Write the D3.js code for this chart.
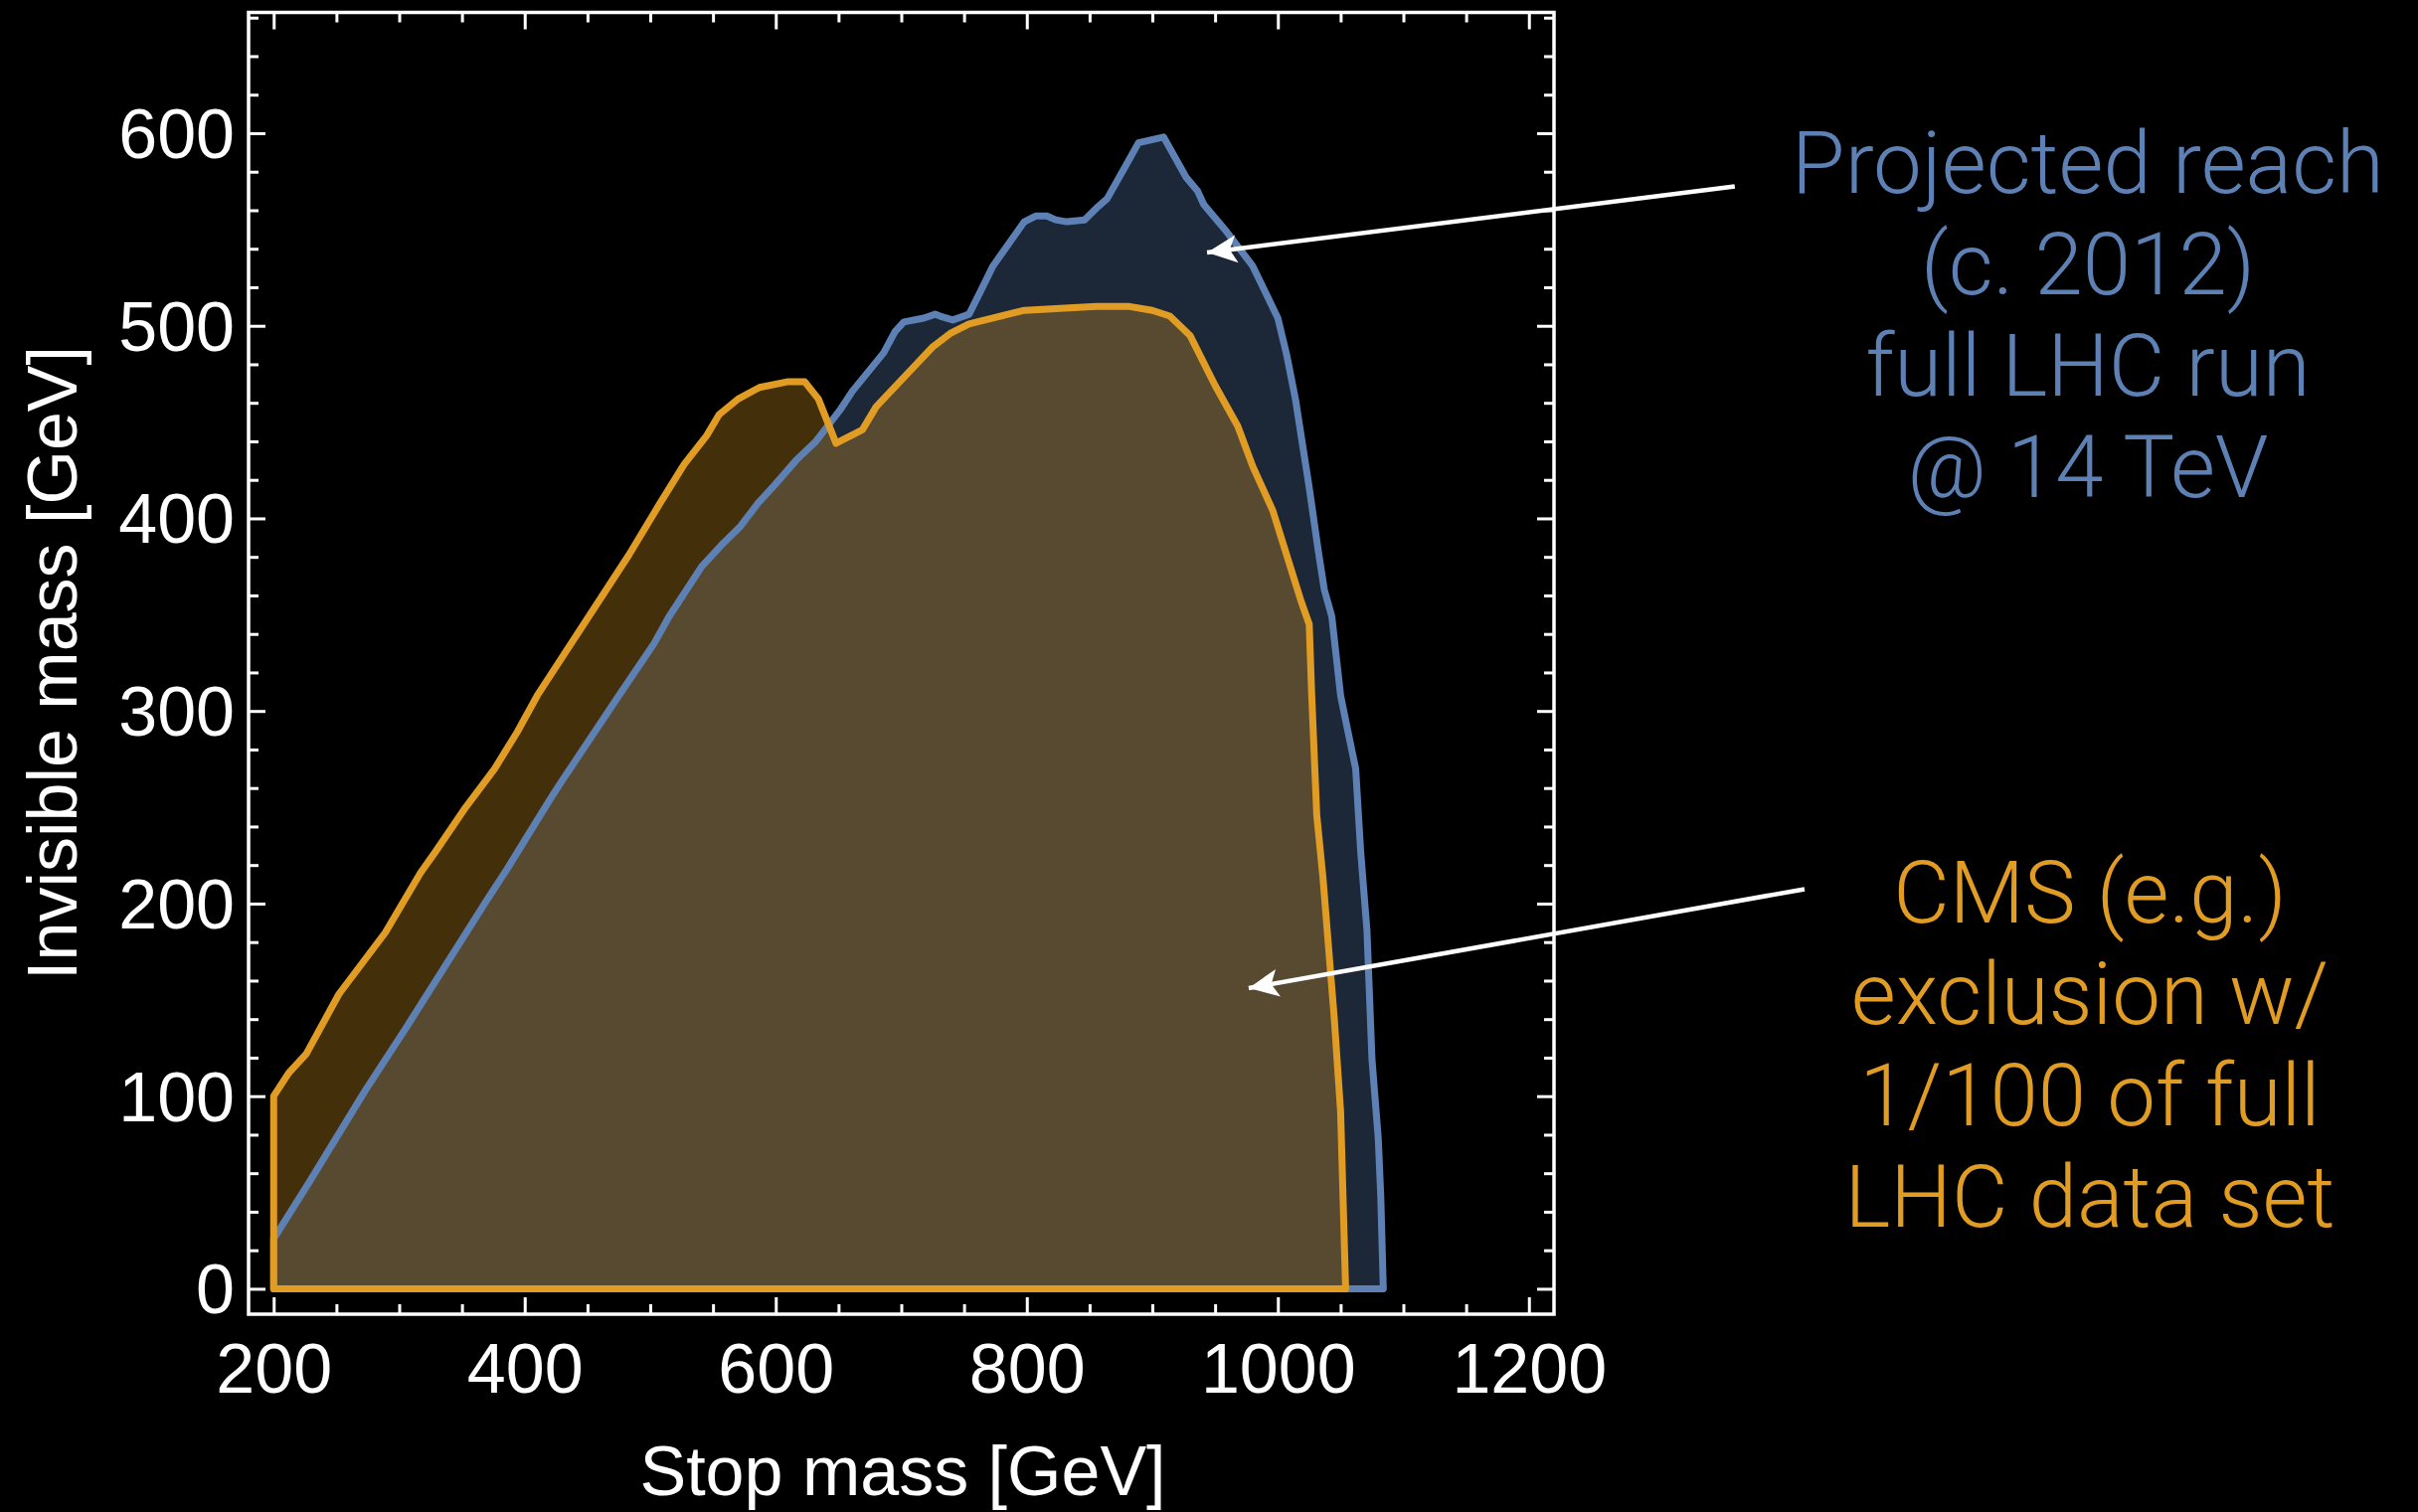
<!DOCTYPE html>
<html>
<head>
<meta charset="utf-8">
<script src="https://cdn.jsdelivr.net/npm/d3@7"></script>
<style>
  html, body { margin: 0; padding: 0; background: #000; }
  svg { display: block; }
</style>
</head>
<body>
<main></main>
<script>
// Page and frame geometry
const width = 2432;
const height = 1521;
const frame = { left: 250, right: 1563, top: 12.5, bottom: 1322 };

// Tick values
const xMajorTicks = [200, 400, 600, 800, 1000, 1200];
const yMajorTicks = [0, 100, 200, 300, 400, 500, 600];

// Projected reach (blue) boundary: stop mass, invisible mass
const reachStop = [200, 200, 228, 273, 305, 370, 386, 422, 430, 475, 503, 515, 541, 558, 572, 586, 600, 616, 632, 652, 661, 686, 695, 702, 718, 727, 731, 741, 754, 764, 773, 798, 807, 816, 823, 832, 846, 857, 864, 877, 889, 909, 927, 936, 941, 959, 980, 1000, 1007, 1014, 1025, 1032, 1037, 1043, 1050, 1055, 1062, 1066, 1071, 1075, 1080, 1082, 1084];
const reachInv = [0, 26, 55, 103, 135, 202, 218, 256, 264, 308, 335, 349, 375, 387, 396, 408, 418, 430, 440, 457, 466, 486, 497, 502, 504, 506, 505, 503, 506, 519, 531, 554, 557, 557, 555, 554, 555, 562, 566, 581, 595, 598, 577, 570, 563, 549, 531, 504, 485, 462, 416, 384, 363, 349, 308, 292, 270, 227, 186, 119, 78, 48, 0];

// CMS exclusion (orange) boundary
const cmsStop = [200, 200, 212, 226, 252, 289, 317, 329, 353, 376, 394, 410, 430, 463, 483, 507, 527, 545, 555, 570, 587, 610, 623, 634, 648, 669, 680, 709, 725, 739, 754, 798, 855, 882, 900, 914, 930, 950, 968, 980, 996, 1018, 1025, 1027, 1031, 1036, 1045, 1050, 1054];
const cmsInv = [0, 100, 112, 122, 153, 185, 216, 227, 250, 270, 289, 308, 328, 361, 381, 407, 428, 443, 454, 462, 468, 471, 471, 462, 439, 446, 458, 478, 489, 496, 501, 508, 510, 510, 508, 505, 495, 469, 448, 427, 404, 358, 345, 308, 246, 213, 140, 92, 0];

// Annotation texts
const reachLabel = ["Projected reach", "(c. 2012)", "full LHC run", "@ 14 TeV"];
const cmsLabel = ["CMS (e.g.)", "exclusion w/", "1/100 of full", "LHC data set"];

// Colours (Mathematica defaults)
const blue = "#5e81b5";
const orange = "#e19c24";

const svg = d3
  .select("main")
  .append("svg")
  .attr("width", width)
  .attr("height", height)
  .style("background", "#000");

// Scales (Mathematica pads the plot range a little)
const x = d3.scaleLinear().domain([180, 1220]).range([frame.left, frame.right]);
const y = d3.scaleLinear().domain([-13.2, 662.7]).range([frame.bottom, frame.top]);

const toPoints = (xs, ys) => xs.map((v, i) => [v, ys[i]]);
const reach = toPoints(reachStop, reachInv);
const cms = toPoints(cmsStop, cmsInv);

const line = d3
  .line()
  .x((d) => x(d[0]))
  .y((d) => y(d[1]))
  .curve(d3.curveLinearClosed);

// Fills first, then the boundary lines on top
svg.append("path").attr("d", line(reach)).attr("fill", blue).attr("fill-opacity", 0.3);
svg.append("path").attr("d", line(cms)).attr("fill", orange).attr("fill-opacity", 0.3);

svg
  .append("path")
  .attr("d", line(reach))
  .attr("fill", "none")
  .attr("stroke", blue)
  .attr("stroke-width", 7)
  .attr("stroke-linejoin", "round");
svg
  .append("path")
  .attr("d", line(cms))
  .attr("fill", "none")
  .attr("stroke", orange)
  .attr("stroke-width", 7)
  .attr("stroke-linejoin", "round");

// Frame ticks, pointing inward
const xMinor = d3.range(200, 1201, 50).filter((v) => v % 200 !== 0);
const yMinor = d3.range(0, 661, 20).filter((v) => v % 100 !== 0);
const labelFont = "'Liberation Sans', Arial, Helvetica, sans-serif";

function styleAxis(g) {
  g.select(".domain").remove();
  g.selectAll("line").attr("stroke", "#fff").attr("stroke-width", 3);
  g.selectAll("text")
    .attr("fill", "#fff")
    .style("font-family", labelFont)
    .style("font-size", "70px");
}

svg
  .append("g")
  .attr("transform", `translate(0, ${frame.bottom})`)
  .call(d3.axisBottom(x).tickValues(xMajorTicks).tickSize(-17).tickPadding(29).tickFormat(d3.format("d")))
  .call(styleAxis);
svg
  .append("g")
  .attr("transform", `translate(0, ${frame.bottom})`)
  .call(d3.axisBottom(x).tickValues(xMinor).tickSize(-10).tickFormat(""))
  .call(styleAxis);
svg
  .append("g")
  .attr("transform", `translate(0, ${frame.top})`)
  .call(d3.axisTop(x).tickValues(xMajorTicks).tickSize(-17).tickFormat(""))
  .call(styleAxis);
svg
  .append("g")
  .attr("transform", `translate(0, ${frame.top})`)
  .call(d3.axisTop(x).tickValues(xMinor).tickSize(-10).tickFormat(""))
  .call(styleAxis);

const yAxisG = svg
  .append("g")
  .attr("transform", `translate(${frame.left}, 0)`)
  .call(d3.axisLeft(y).tickValues(yMajorTicks).tickSize(-17).tickPadding(14).tickFormat(d3.format("d")))
  .call(styleAxis);
yAxisG.selectAll("text").attr("dy", "0.35em");
svg
  .append("g")
  .attr("transform", `translate(${frame.left}, 0)`)
  .call(d3.axisLeft(y).tickValues(yMinor).tickSize(-10).tickFormat(""))
  .call(styleAxis);
svg
  .append("g")
  .attr("transform", `translate(${frame.right}, 0)`)
  .call(d3.axisRight(y).tickValues(yMajorTicks).tickSize(-17).tickFormat(""))
  .call(styleAxis);
svg
  .append("g")
  .attr("transform", `translate(${frame.right}, 0)`)
  .call(d3.axisRight(y).tickValues(yMinor).tickSize(-10).tickFormat(""))
  .call(styleAxis);

// Frame
svg
  .append("rect")
  .attr("x", frame.left)
  .attr("y", frame.top)
  .attr("width", frame.right - frame.left)
  .attr("height", frame.bottom - frame.top)
  .attr("fill", "none")
  .attr("stroke", "#fff")
  .attr("stroke-width", 3.5);

// Axis titles
svg
  .append("text")
  .attr("x", 908)
  .attr("y", 1504)
  .attr("text-anchor", "middle")
  .attr("fill", "#fff")
  .style("font-family", labelFont)
  .style("font-size", "70px")
  .text("Stop mass [GeV]");

svg
  .append("text")
  .attr("transform", `translate(77, 667) rotate(-90)`)
  .attr("text-anchor", "middle")
  .attr("fill", "#fff")
  .style("font-family", labelFont)
  .style("font-size", "70px")
  .text("Invisible mass [GeV]");

// Arrows
svg
  .append("defs")
  .append("marker")
  .attr("id", "head")
  .attr("viewBox", "-32 -16 34 32")
  .attr("refX", 0)
  .attr("refY", 0)
  .attr("markerUnits", "userSpaceOnUse")
  .attr("markerWidth", 34)
  .attr("markerHeight", 32)
  .attr("orient", "auto")
  .append("path")
  .attr("d", "M0,0 L-30,-14 L-23,0 L-30,14 Z")
  .attr("fill", "#fff");

const arrows = [
  { from: [1364, 572.4], to: [943.6, 538] },
  { from: [1419.6, 207.5], to: [976.8, 156.1] },
];
svg
  .selectAll(".arrow")
  .data(arrows)
  .enter()
  .append("line")
  .attr("class", "arrow")
  .attr("x1", (d) => x(d.from[0]))
  .attr("y1", (d) => y(d.from[1]))
  .attr("x2", (d) => x(d.to[0]))
  .attr("y2", (d) => y(d.to[1]))
  .attr("stroke", "#fff")
  .attr("stroke-width", 4.5)
  .attr("marker-end", "url(#head)");

// Annotation labels
const noteFont = "'Helvetica Neue', Roboto, 'Liberation Sans', sans-serif";
function addNote(lines, color, cx, firstBaseline) {
  svg
    .append("text")
    .attr("fill", color)
    .attr("text-anchor", "middle")
    .style("font-family", noteFont)
    .style("font-weight", 300)
    .style("font-size", "87px")
    .selectAll("tspan")
    .data(lines)
    .enter()
    .append("tspan")
    .attr("x", cx)
    .attr("y", (d, i) => firstBaseline + i * 102)
    .text((d) => d);
}
addNote(reachLabel, blue, 2100, 194);
addNote(cmsLabel, orange, 2102, 928);
</script>
</body>
</html>
